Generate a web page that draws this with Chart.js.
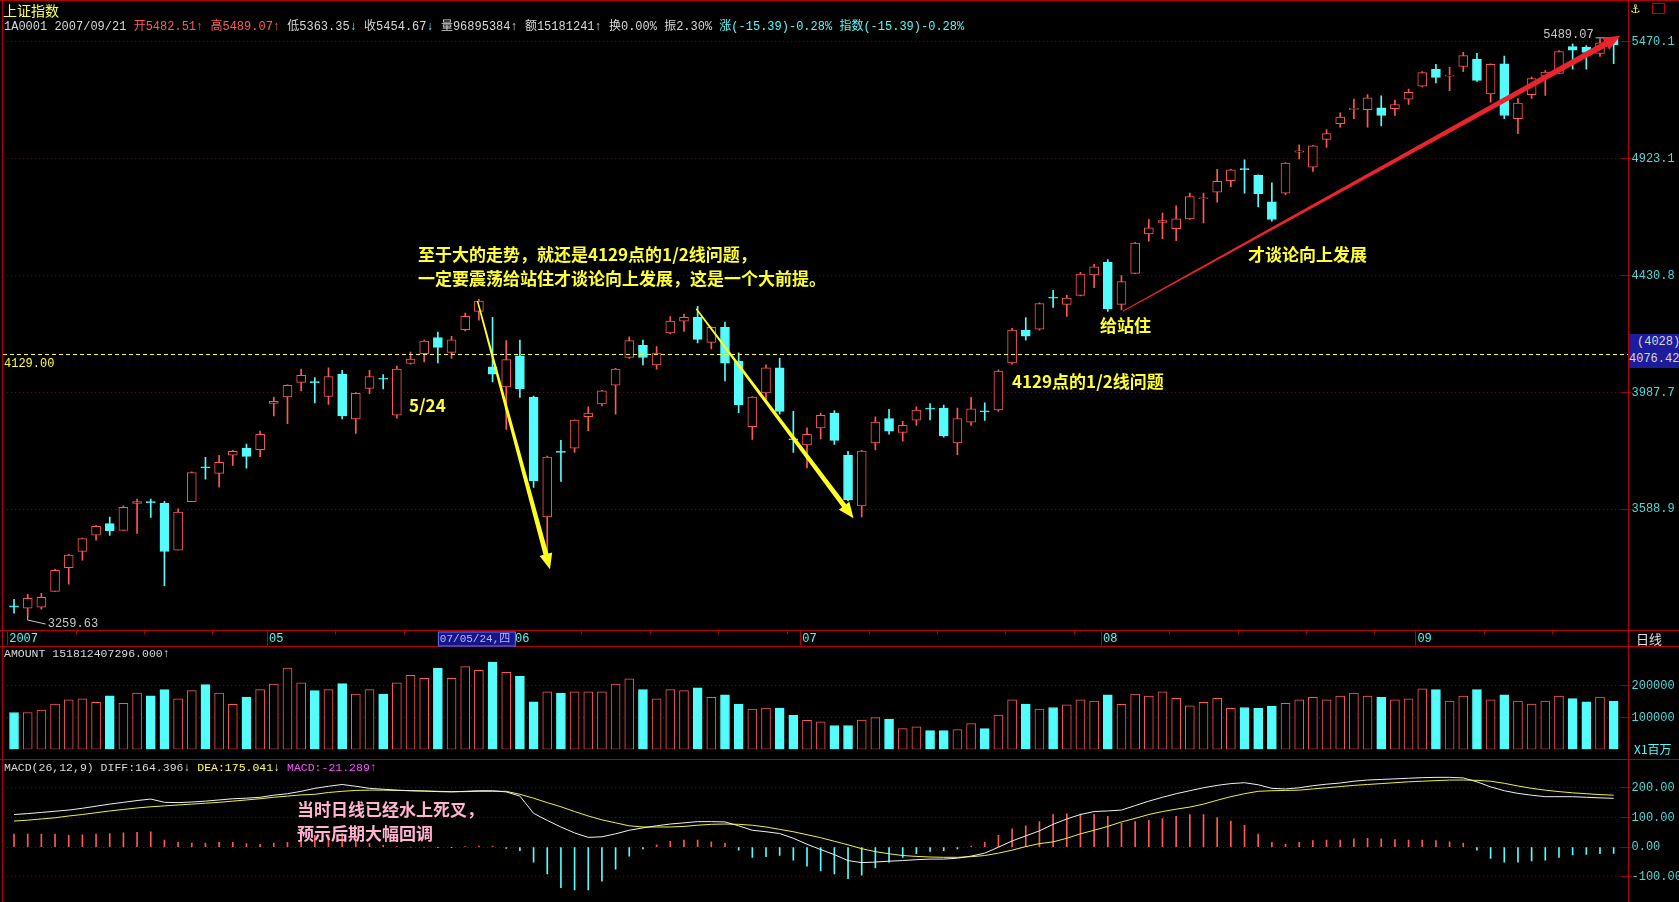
<!DOCTYPE html>
<html>
<head>
<meta charset="utf-8">
<script src="https://cdn.jsdelivr.net/npm/chart.js@4/dist/chart.umd.min.js"></script>
<style>
  html, body { margin: 0; padding: 0; background: #000; }
  #wrap { position: relative; width: 1679px; height: 902px; overflow: hidden; background: #000; }
  canvas { position: absolute; left: 0; }
  .t { position: absolute; white-space: nowrap; font-family: "Liberation Mono", "Noto Sans CJK SC", monospace; font-size: 11.5px; color: #c8c8c8; }
  .ann { position: absolute; white-space: nowrap; font-family: "Noto Sans CJK SC", sans-serif; font-weight: 700; font-size: 17px; color: #ffff33; line-height: 24px; }
  .pink { color: #ffb4d2; }
  .red { color: #ff5a5a; } .cy { color: #54fcfc; } .wh { color: #d8d8d8; } .yl { color: #ffff54; } .mg { color: #ff54ff; }
  .line { position: absolute; background: #b40000; }
</style>
</head>
<body>
<div id="wrap">
  <canvas id="main" width="1679" height="647" style="top:0"></canvas>
  <canvas id="vol" width="1679" height="112" style="top:647px"></canvas>
  <canvas id="macd" width="1679" height="153" style="top:759px"></canvas>

  <div class="line" style="left:0;top:0;width:1679px;height:1px"></div>
  <div class="line" style="left:2px;top:0;width:1px;height:902px"></div>
  <div class="line" style="left:1628px;top:0;width:1px;height:902px"></div>
  <div class="line" style="left:0;top:759px;width:1679px;height:1px"></div>

  <div class="t yl" style="left:3px;top:0px;font-family:'Noto Sans CJK SC';font-size:14px">上证指数</div>
  <div class="t" style="left:4px;top:16px;font-size:12px">
    <span class="wh">1A0001 2007/09/21 </span><span class="red">开5482.51↑ 高5489.07↑ </span><span class="wh">低5363.35</span><span class="cy">↓ </span><span class="wh">收5454.67</span><span class="cy">↓ </span><span class="wh">量96895384↑ 额15181241↑ 换0.00% 振2.30% </span><span class="cy">涨(-15.39)-0.28% 指数(-15.39)-0.28%</span>
  </div>
  <div class="t yl" style="left:1631px;top:0px;font-size:14px">⚓</div>
  <div style="position:absolute;left:1652px;top:3px;width:11px;height:9px;border:1px solid #c00000"></div>

  <div class="ann" style="left:418px;top:242px">至于大的走势，就还是4129点的1/2线问题，</div>
  <div class="ann" style="left:418px;top:266px">一定要震荡给站住才谈论向上发展，这是一个大前提。</div>
  <div class="ann" style="left:409px;top:393px">5/24</div>
  <div class="ann" style="left:1012px;top:369px">4129点的1/2线问题</div>
  <div class="ann" style="left:1100px;top:313px">给站住</div>
  <div class="ann" style="left:1248px;top:242px">才谈论向上发展</div>
  <div class="ann pink" style="left:297px;top:797px">当时日线已经水上死叉，</div>
  <div class="ann pink" style="left:297px;top:821px">预示后期大幅回调</div>

  <div style="position:absolute;left:1629px;top:334px;width:50px;height:34px;background:#1c1c9c"></div>
  <div class="t wh" style="left:1637px;top:335px;font-size:12px">(4028)</div>
  <div class="t wh" style="left:1629px;top:352px;font-size:12px">4076.42</div>

  <div class="t wh" style="left:4px;top:647px">AMOUNT 151812407296.000↑</div>
  <div class="t cy" style="left:1634px;top:740px;font-family:'Noto Sans CJK SC';font-size:12px">X1百万</div>
  <div class="t" style="left:4px;top:761px"><span class="wh">MACD(26,12,9) DIFF:164.396</span><span class="wh">↓</span> <span class="yl">DEA:175.041↓</span> <span class="mg">MACD:-21.289↑</span></div>
</div>
<script>
// ---- data ----
var months = ['2007', '05', '06', '07', '08', '09'];
var monthStart = [0, 19, 37, 58, 80, 103];
var hiLabelDay = 31;            // 07/05/24
var pivot = 4129;

var open = [3290,3283,3286,3333,3405,3455,3506,3543,3521,3608,3614,3608,3459,3614,3729,3707,3768,3792,3787,3948,
  3971,4024,4025,3973,4054,3893,4002,4037,3907,4093,4129,4190,4134,4220,4290,4081,4007,4121,3971,3564,
  3782,3792,3901,3946,4014,4115,4160,4088,4207,4252,4267,4171,4228,4102,3866,3986,4077,3824,3803,3862,
  3914,3768,3600,3810,3895,3846,3889,3932,3932,3810,3882,3922,3925,4095,4218,4221,4345,4317,4352,4433,
  4484,4317,4439,4600,4648,4622,4663,4748,4776,4826,4878,4850,4735,4772,4952,4885,5009,5081,5146,5145,
  5153,5150,5194,5255,5335,5303,5349,5385,5219,5362,5103,5215,5303,5316,5446,5443,5413,5482.51];
var high = [3309,3324,3327,3400,3446,3497,3537,3564,3600,3622,3622,3615,3590,3712,3761,3768,3785,3806,3851,3971,
  4015,4072,4041,4077,4068,3987,4068,4052,4083,4135,4180,4210,4194,4283,4337,4267,4178,4180,3974,3765,
  3819,3890,3936,3995,4075,4192,4180,4156,4270,4279,4309,4230,4249,4132,3973,4088,4112,3920,3862,3914,
  3923,3781,3785,3901,3927,3885,3936,3948,3942,3932,3970,3950,4070,4225,4266,4323,4372,4352,4443,4476,
  4495,4430,4565,4660,4687,4718,4772,4772,4876,4876,4918,4852,4817,4905,4984,4982,5054,5130,5194,5216,
  5209,5190,5241,5325,5360,5345,5418,5413,5362,5400,5197,5298,5330,5427,5460,5451,5484,5489.07];
var low = [3268,3259.63,3280,3333,3355,3428,3490,3505,3521,3512,3563,3350,3459,3614,3688,3661,3734,3724,3763,3904,
  3877,3993,3950,3945,3893,3843,3983,4000,3896,4090,4099,4095,4112,4215,4256,4025,3857,3970,3660,3441,
  3680,3778,3852,3939,3910,4112,4088,4072,4203,4213,4169,4147,4029,3915,3822,3960,3910,3778,3725,3824,
  3805,3616,3564,3786,3840,3816,3871,3890,3830,3770,3871,3888,3920,4090,4180,4218,4305,4270,4350,4382,
  4290,4295,4438,4570,4580,4572,4660,4646,4733,4800,4772,4713,4653,4765,4922,4866,4973,5065,5103,5065,
  5070,5118,5169,5252,5270,5234,5324,5278,5180,5103,5035,5197,5212,5316,5336,5336,5398,5363.35];
var close = [3286,3312,3315,3397,3444,3495,3534,3520,3595,3614,3610,3455,3580,3710,3725,3744,3781,3764,3840,3956,
  4013,4049,4023,4045,3904,3984,4045,4035,4072,4109,4176,4153,4181,4271,4330,4054,4107,4000,3682,3762,
  3778,3889,3914,3993,4072,4178,4115,4131,4252,4267,4183,4228,4094,3944,3971,4077,3920,3820,3840,3906,
  3819,3619,3782,3882,3851,3871,3925,3928,3834,3895,3929,3918,4065,4218,4195,4320,4341,4341,4436,4465,
  4299,4406,4562,4625,4655,4663,4757,4752,4823,4873,4874,4770,4660,4903,4958,4980,5035,5111,5150,5200,
  5118,5169,5226,5320,5297,5308,5402,5283,5360,5118,5176,5291,5322,5422,5428,5418,5465,5454.67];
// turnover, thousand x 1,000,000 yuan
var amountK = [116,116,124,143,156,159,148,169,145,177,169,188,159,185,204,177,142,165,188,206,
  256,210,185,188,207,174,188,174,210,233,224,256,224,261,249,275,243,230,150,181,
  177,181,181,181,206,222,188,159,188,185,194,164,172,143,127,130,130,107,91,87,
  75,75,92,100,95,65,71,59,59,62,81,65,108,156,143,127,132,140,156,152,
  172,142,174,168,181,161,137,148,161,129,132,129,136,145,156,164,156,168,177,168,
  164,156,159,191,188,152,168,188,156,172,152,143,152,168,160,150,165,151.8];
var diff = [110,113,117,121,125,131,138,145,151,157,162,151,150,152,155,159,163,165,168,175,
  180,188,198,205,211,205,198,195,192,190,189,187,186,188,190,190,186,172,114,90,
  68,48,33,35,45,57,65,72,78,82,86,86,85,72,57,52,46,30,10,-8,
  -25,-45,-52,-50,-47,-45,-42,-40,-40,-37,-30,-20,0,21,38,55,77,95,110,120,
  122,125,140,155,168,180,190,200,208,214,217,210,198,196,200,207,212,216,222,226,
  228,230,232,234,235,235,233,220,203,190,181,175,170,170,170,168,166,164.396];
var dea = [88,91,95,99,105,110,116,122,127,132,136,139,142,145,148,151,155,159,163,168,
  172,176,178,184,188,191,192,192,191,190,189,188,187,187,188,188,188,178,165,150,
  136,120,105,92,82,72,68,68,68,70,74,77,78,77,74,68,60,52,42,32,
  20,8,-5,-15,-22,-28,-31,-33,-34,-34,-32,-28,-20,-10,2,12,18,30,45,57,
  70,85,97,110,120,128,135,145,158,170,180,188,190,191,192,196,200,204,208,211,
  214,217,220,222,224,226,226,225,222,215,206,198,192,187,183,180,177,175.041];
var macd = [44,44,44,44,40,42,44,46,48,50,52,24,16,14,14,16,16,12,10,14,
  16,24,40,42,46,28,12,6,2,0,0,-2,-2,2,4,4,-4,-12,-50,-90,
  -136,-144,-144,-114,-74,-30,-6,8,20,24,24,18,14,-10,-34,-32,-28,-44,-64,-80,
  -90,-106,-94,-70,-50,-34,-22,-14,-12,-6,4,16,40,62,72,86,110,112,112,110,
  104,80,86,90,96,104,110,110,100,88,74,44,16,10,16,22,24,24,28,30,
  28,26,24,24,22,18,14,-10,-38,-50,-50,-46,-44,-34,-26,-24,-22,-21.289];
var priceTicks = [3588.9, 3987.7, 4430.8, 4923.1, 5470.1];
var amountTicks = [100000, 200000];
var macdTicks = [-100, 0, 100, 200];

// ---- shared look ----
var RED = '#ff5656', CYAN = '#54fcfc', GRID = 'rgba(170,0,0,0.9)', TICKC = '#4fd8d8';
var MONO = 'Liberation Mono';
var labels = open.map(function (v, i) { return i; });
var up = open.map(function (v, i) { return close[i] >= open[i]; });
var amount = amountK.map(function (v) { return v * 1000; });

function xAxis() {
  return { type: 'category', offset: true, display: false, grid: { display: false } };
}
function yAxis(extra) {
  var base = {
    position: 'right',
    afterFit: function (s) { s.width = 58.5; },
    grid: { color: GRID, tickLength: 11, lineWidth: 1 },
    border: { display: false, dash: [1, 3] },
    ticks: { color: TICKC, font: { family: MONO, size: 12 }, padding: 0, autoSkip: false }
  };
  return Object.assign(base, extra);
}
var baseOpts = {
  responsive: false, animation: false,
  plugins: { legend: { display: false }, tooltip: { enabled: false } }
};

// tapered arrow
function arrow(ctx, x1, y1, x2, y2, w0, w1, head, color) {
  var dx = x2 - x1, dy = y2 - y1, len = Math.sqrt(dx * dx + dy * dy);
  var ux = dx / len, uy = dy / len, nx = -uy, ny = ux;
  var bx = x2 - ux * head * 1.2, by = y2 - uy * head * 1.2;
  ctx.save();
  ctx.fillStyle = color;
  ctx.beginPath();
  ctx.moveTo(x1 + nx * w0 / 2, y1 + ny * w0 / 2);
  ctx.lineTo(bx + nx * w1 / 2, by + ny * w1 / 2);
  ctx.lineTo(bx + nx * head / 2, by + ny * head / 2);
  ctx.lineTo(x2, y2);
  ctx.lineTo(bx - nx * head / 2, by - ny * head / 2);
  ctx.lineTo(bx - nx * w1 / 2, by - ny * w1 / 2);
  ctx.lineTo(x1 - nx * w0 / 2, y1 - ny * w0 / 2);
  ctx.closePath();
  ctx.fill();
  ctx.restore();
}

var overlay = {
  id: 'overlay',
  afterDatasetsDraw: function (chart) {
    var ctx = chart.ctx, xs = chart.scales.x, ys = chart.scales.y;
    var last = open.length - 1;
    ctx.save();
    // 4129 dashed line
    var py = Math.round(ys.getPixelForValue(pivot)) + 0.5;
    ctx.strokeStyle = '#ffff40'; ctx.lineWidth = 1; ctx.setLineDash([4, 3]);
    ctx.beginPath(); ctx.moveTo(3, py); ctx.lineTo(1628, py); ctx.stroke();
    ctx.setLineDash([]);
    ctx.font = '12px ' + MONO; ctx.fillStyle = '#ffff40'; ctx.textBaseline = 'top';
    ctx.fillText(pivot.toFixed(2), 4, py + 3);

    // high / low labels
    var hx = xs.getPixelForValue(last), hy = ys.getPixelForValue(high[last]);
    ctx.strokeStyle = '#c8c8c8'; ctx.fillStyle = '#c8c8c8'; ctx.textBaseline = 'middle';
    ctx.beginPath(); ctx.moveTo(hx, hy); ctx.lineTo(hx - 18, hy); ctx.stroke();
    ctx.textAlign = 'right'; ctx.fillText(high[last].toFixed(2), hx - 20, hy - 3);
    var lx = xs.getPixelForValue(1), ly = ys.getPixelForValue(low[1]);
    ctx.beginPath(); ctx.moveTo(lx, ly); ctx.lineTo(lx, ly + 4); ctx.lineTo(lx + 18, ly + 8); ctx.stroke();
    ctx.textAlign = 'left'; ctx.fillText(low[1].toFixed(2), lx + 20, ly + 8);

    // arrows
    arrow(ctx, xs.getPixelForValue(33.9), ys.getPixelForValue(4330), xs.getPixelForValue(39.2), ys.getPixelForValue(3400), 1.5, 5, 13, '#ffff20');
    arrow(ctx, xs.getPixelForValue(49.9), ys.getPixelForValue(4300), xs.getPixelForValue(61.4), ys.getPixelForValue(3560), 1.5, 5, 13, '#ffff20');
    arrow(ctx, xs.getPixelForValue(81.1), ys.getPixelForValue(4290), xs.getPixelForValue(117.5), ys.getPixelForValue(5500), 1, 6, 14, '#e8242c');

    // date strip
    var top = 630.5, bot = 646.5;
    ctx.strokeStyle = '#b40000'; ctx.lineWidth = 1;
    ctx.beginPath(); ctx.moveTo(0, top); ctx.lineTo(1679, top); ctx.moveTo(0, bot); ctx.lineTo(1679, bot); ctx.stroke();
    var step = xs.getPixelForValue(1) - xs.getPixelForValue(0);
    for (var i = 0; i <= last; i++) {
      var m = monthStart.indexOf(i);
      var prevStart = 0;
      monthStart.forEach(function (s) { if (s <= i) prevStart = s; });
      if (m >= 0 || (i - prevStart) % 5 === 0) {
        var tx = Math.round(xs.getPixelForValue(i) - step / 2) + 0.5;
        ctx.beginPath(); ctx.moveTo(tx, top); ctx.lineTo(tx, top + (m >= 0 ? 15 : 4)); ctx.stroke();
      }
    }
    ctx.font = '12px ' + MONO; ctx.textBaseline = 'middle'; ctx.textAlign = 'left';
    monthStart.forEach(function (s, k) {
      ctx.fillStyle = CYAN;
      ctx.fillText(months[k], xs.getPixelForValue(s) - step / 2 + 2, 639);
    });
    var bx = xs.getPixelForValue(hiLabelDay);
    ctx.fillStyle = '#16168a'; ctx.fillRect(bx, top + 1, 78, 15);
    ctx.strokeStyle = '#6a6aff'; ctx.strokeRect(bx + 0.5, top + 1.5, 77, 14);
    ctx.fillStyle = '#b8b8ff'; ctx.font = '11px ' + MONO + ', "Noto Sans CJK SC"';
    ctx.fillText('07/05/24,四', bx + 2, 639);
    ctx.fillStyle = '#e0e0e0'; ctx.font = '13px "Noto Sans CJK SC"';
    ctx.fillText('日线', 1636, 639);
    ctx.restore();
  }
};

// ---- main candles ----
new Chart(document.getElementById('main'), {
  type: 'bar',
  data: {
    labels: labels,
    datasets: [{
      data: labels.map(function (i) { return [low[i], high[i]]; }),
      backgroundColor: up.map(function (u) { return u ? RED : CYAN; }),
      barThickness: 1, grouped: false, order: 2
    }, {
      data: labels.map(function (i) { return [open[i], close[i]]; }),
      backgroundColor: up.map(function (u) { return u ? '#000' : CYAN; }),
      borderColor: up.map(function (u) { return u ? RED : CYAN; }),
      borderWidth: 1, borderSkipped: false, minBarLength: 1,
      barThickness: 9, grouped: false, order: 1
    }]
  },
  options: Object.assign({}, baseOpts, {
    layout: { padding: { left: 7.2, right: 0, top: 30, bottom: 16 } },
    scales: {
      x: xAxis(),
      y: yAxis({
        type: 'logarithmic', min: 3216, max: 5528,
        afterBuildTicks: function (s) { s.ticks = priceTicks.map(function (v) { return { value: v }; }); },
        ticks: { color: TICKC, font: { family: MONO, size: 12 }, padding: 0, autoSkip: false,
          callback: function (v) { return Number(v).toFixed(1); } }
      })
    }
  }),
  plugins: [overlay]
});

// ---- amount ----
new Chart(document.getElementById('vol'), {
  type: 'bar',
  data: {
    labels: labels,
    datasets: [{
      data: amount,
      backgroundColor: up.map(function (u) { return u ? '#000' : CYAN; }),
      borderColor: up.map(function (u) { return u ? RED : CYAN; }),
      borderWidth: 1, borderSkipped: false, barThickness: 9
    }]
  },
  options: Object.assign({}, baseOpts, {
    layout: { padding: { left: 7.2, right: 0, top: 6.2, bottom: 9.7 } },
    scales: {
      x: xAxis(),
      y: yAxis({
        min: 0, max: 300000,
        afterBuildTicks: function (s) { s.ticks = amountTicks.map(function (v) { return { value: v }; }); },
        ticks: { color: TICKC, font: { family: MONO, size: 12 }, padding: 0, autoSkip: false,
          callback: function (v) { return String(v); } }
      })
    }
  })
});

// ---- MACD ----
new Chart(document.getElementById('macd'), {
  type: 'bar',
  data: {
    labels: labels,
    datasets: [{
      type: 'line', data: diff, borderColor: '#f0f0f0', borderWidth: 1, pointRadius: 0, tension: 0, order: 1
    }, {
      type: 'line', data: dea, borderColor: '#f0f040', borderWidth: 1, pointRadius: 0, tension: 0, order: 2
    }, {
      data: macd,
      backgroundColor: macd.map(function (v) { return v >= 0 ? RED : CYAN; }),
      barThickness: 1, order: 3
    }]
  },
  options: Object.assign({}, baseOpts, {
    layout: { padding: { left: 7.2, right: 0, top: 13.9, bottom: 10 } },
    scales: {
      x: xAxis(),
      y: yAxis({
        min: -184.4, max: 250,
        afterBuildTicks: function (s) { s.ticks = macdTicks.map(function (v) { return { value: v }; }); },
        ticks: { color: TICKC, font: { family: MONO, size: 12 }, padding: 0, autoSkip: false,
          callback: function (v) { return Number(v).toFixed(2); } }
      })
    }
  })
});
</script>
</body>
</html>
